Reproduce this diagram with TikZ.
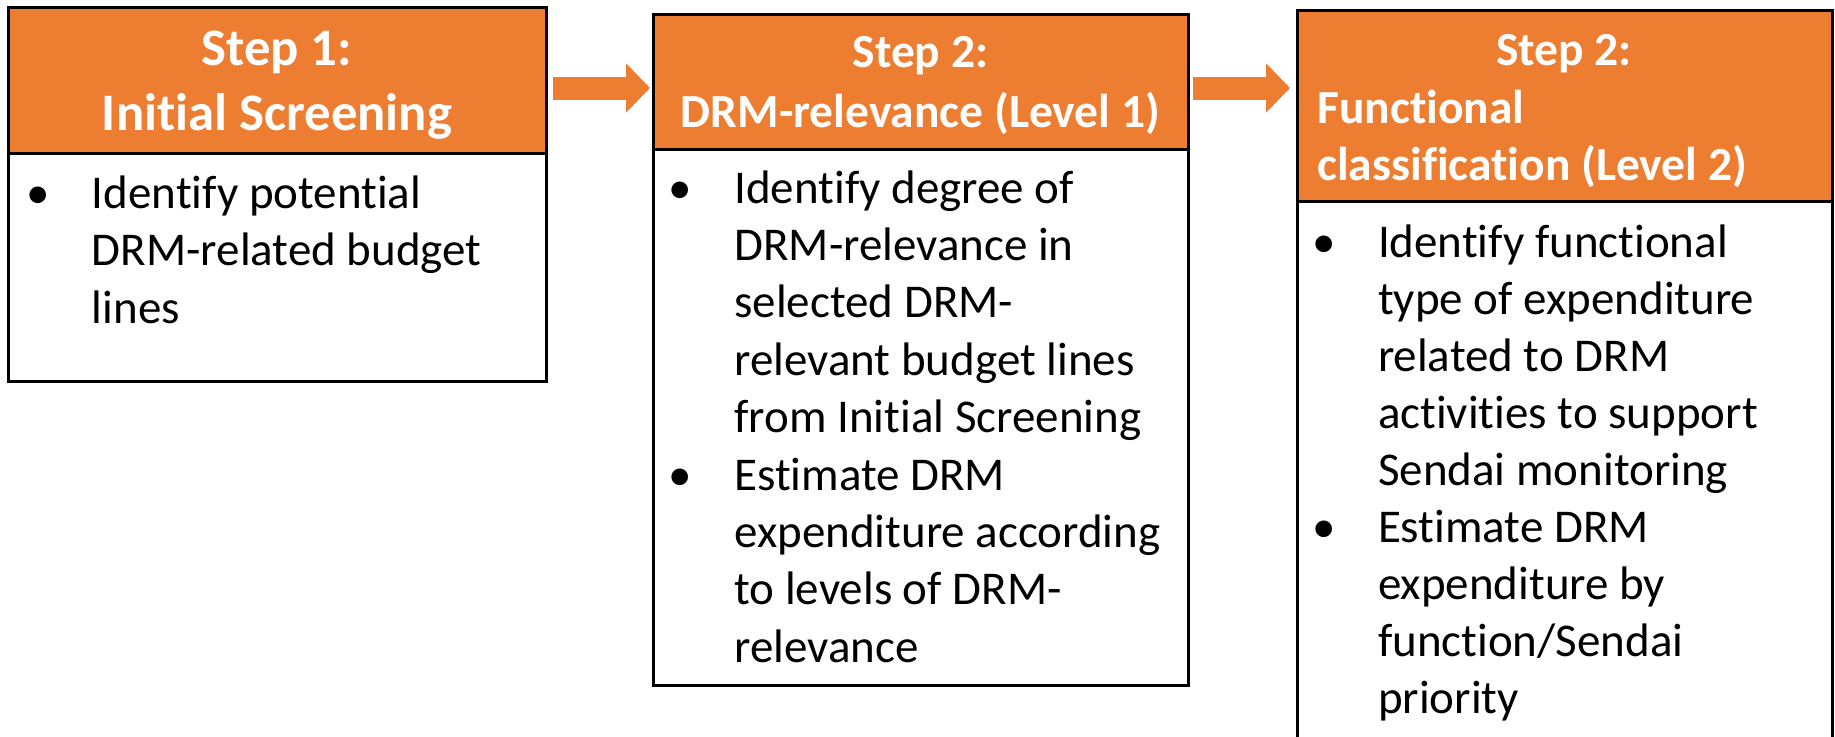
\documentclass[tikz,border=0pt]{standalone}
\usepackage{fontspec}
\setmainfont{Carlito}[Ligatures={NoCommon,NoContextual}]
\usetikzlibrary{fit,arrows.meta}
\definecolor{stepor}{HTML}{ED7D31}
\begin{document}
\begin{tikzpicture}[x=0.5pt,y=-0.5pt,
  boxframe/.style={draw=black,line width=1.5pt,inner sep=0pt,outer sep=0pt,fill=white},
  headframe/.style={boxframe,fill=stepor},
  headtext/.style={text=white,font={\bfseries\fontsize{23.75pt}{28pt}\selectfont},inner sep=0pt},
  bigheadtext/.style={headtext,font={\bfseries\fontsize{26.35pt}{32pt}\selectfont}},
  bodytext/.style={text=black,font={\fontsize{23.5pt}{28pt}\selectfont},inner sep=0pt,anchor=base west},
  bulletmark/.style={text=black,font={\fontsize{23.5pt}{28pt}\selectfont},inner sep=0pt,anchor=base},
  blockarrow/.style={draw=stepor,line width=11.5pt,-{Triangle[length=12pt,width=24pt]}}
]
\useasboundingbox (0,0) rectangle (1835,736);
\fill[white] (0,0) rectangle (1835,736);

% Box 1
\node[boxframe,fit={(8,7) (546,381)}] (b1) {};
\node[headframe,fit={(8,7) (546,153)}] (h1) {};
\node[bigheadtext,anchor=base] (h1a) at (277,65) {Step 1:};
\node[bigheadtext,anchor=base] (h1b) at (277,130) {Initial Screening};
\node[bulletmark] (b1d1) at (38,208) {•};
\foreach \t [count=\i] in {Identify potential,DRM-related budget,lines}
  \node[bodytext] (b1t\i) at (91.5,{208+57.5*(\i-1)}) {\t};

% Box 2
\node[boxframe,fit={(653,14) (1188,685)}] (b2) {};
\node[headframe,fit={(653,14) (1188,149)}] (h2) {};
\node[headtext,anchor=base] (h2a) at (920.5,67) {Step 2:};
\node[headtext,anchor=base] (h2b) at (920.5,127) {DRM-relevance (Level 1)};
\node[bulletmark] (b2d1) at (680.5,203) {•};
\node[bulletmark] (b2d2) at (680.5,{203+57.4*5}) {•};
\foreach \t [count=\i] in {Identify degree of,DRM-relevance in,selected DRM-,relevant budget lines,from Initial Screening,Estimate DRM,expenditure according,to levels of DRM-,relevance}
  \node[bodytext] (b2t\i) at (734,{203+57.4*(\i-1)}) {\t};

% Box 3
\node[boxframe,fit={(1297,10) (1832,770)}] (b3) {};
\node[headframe,fit={(1297,10) (1832,201)}] (h3) {};
\node[headtext,anchor=base] (h3a) at (1564,65) {Step 2:};
\node[headtext,anchor=base west] (h3b) at (1317,123) {Functional};
\node[headtext,anchor=base west] (h3c) at (1317,180) {classification (Level 2)};
\node[bulletmark] (b3d1) at (1324,257) {•};
\node[bulletmark] (b3d2) at (1324,{257+57.1*5}) {•};
\foreach \t [count=\i] in {Identify functional,type of expenditure,related to DRM,activities to support,Sendai monitoring,Estimate DRM,expenditure by,function/Sendai,priority}
  \node[bodytext] (b3t\i) at (1377.6,{257+57.1*(\i-1)}) {\t};

% Arrows
\coordinate (ay) at (0,88);
\draw[blockarrow,shorten <=3.5pt,shorten >=1.5pt] (b1.east |- ay) -- (b2.west |- ay);
\draw[blockarrow,shorten <=2.5pt,shorten >=3.5pt] (b2.east |- ay) -- (b3.west |- ay);
\end{tikzpicture}
\end{document}
